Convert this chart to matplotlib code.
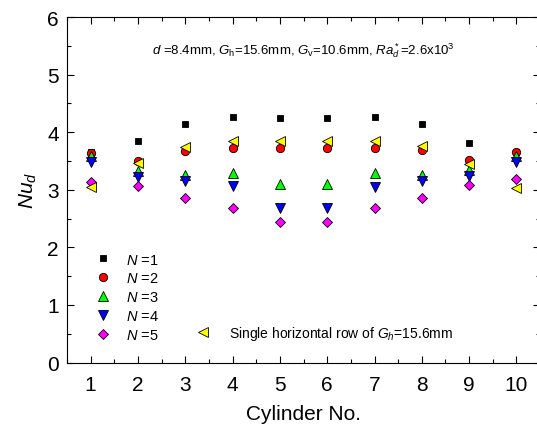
import matplotlib
matplotlib.use("Agg")
import matplotlib.pyplot as plt
from matplotlib.ticker import MultipleLocator

plt.rcParams["font.family"] = ["Liberation Sans", "DejaVu Sans"]
plt.rcParams["mathtext.fontset"] = "custom"
plt.rcParams["mathtext.rm"] = "Liberation Sans"
plt.rcParams["mathtext.it"] = "Liberation Sans:italic"

# ── data ─────────────────────────────────────────────────────────────────────
cylinders = [1, 2, 3, 4, 5, 6, 7, 8, 9, 10]
nu_n1 = [3.66, 3.84, 4.15, 4.26, 4.25, 4.25, 4.26, 4.15, 3.81, 3.66]
nu_n2 = [3.64, 3.50, 3.68, 3.73, 3.72, 3.72, 3.72, 3.69, 3.51, 3.65]
nu_n3 = [3.59, 3.32, 3.26, 3.30, 3.10, 3.10, 3.30, 3.26, 3.35, 3.59]
nu_n4 = [3.48, 3.22, 3.16, 3.06, 2.68, 2.68, 3.05, 3.16, 3.24, 3.48]
nu_n5 = [3.13, 3.07, 2.86, 2.68, 2.44, 2.44, 2.68, 2.86, 3.09, 3.18]
nu_single = [3.04, 3.46, 3.75, 3.84, 3.84, 3.84, 3.84, 3.76, 3.44, 3.03]

labels = [r"$N$ =1", r"$N$ =2", r"$N$ =3", r"$N$ =4", r"$N$ =5"]
single_label = r"Single horizontal row of $G_h$=15.6mm"

# ── plot ─────────────────────────────────────────────────────────────────────
fig = plt.figure(figsize=(5.37, 4.27), dpi=100)
ax = fig.add_axes([0.1248, 0.1487, 0.881, 0.809])

styles = [
    ("s", "black", 5.0),
    ("o", "red", 6.0),
    ("^", "#00ff00", 7.0),
    ("v", "blue", 7.0),
    ("D", "#ff00ff", 5.5),
]
series = [nu_n1, nu_n2, nu_n3, nu_n4, nu_n5]

handles = []
for vals, lab, (m, c, ms) in zip(series, labels, styles):
    h, = ax.plot(cylinders, vals, linestyle="none", marker=m, ms=ms,
                 mfc=c, mec="black", mew=0.6, label=lab)
    handles.append(h)
h_single, = ax.plot(cylinders, nu_single, linestyle="none", marker="<", ms=7,
                    mfc="yellow", mec="black", mew=0.6, label=single_label)

ax.set_xlim(0.5, 10.5)
ax.set_ylim(0, 6)
ax.xaxis.set_major_locator(MultipleLocator(1))
ax.xaxis.set_minor_locator(MultipleLocator(0.5))
ax.yaxis.set_major_locator(MultipleLocator(1))
ax.yaxis.set_minor_locator(MultipleLocator(0.5))
ax.tick_params(which="both", direction="in", top=True, right=True, labelsize=15)
ax.tick_params(which="major", length=5, width=0.8)
ax.tick_params(which="minor", length=3, width=0.8)
ax.tick_params(axis="x", pad=9)
ax.tick_params(axis="y", pad=6)

ax.set_xlabel("Cylinder No.", fontsize=15, labelpad=7)
ax.set_ylabel(r"$Nu_d$", fontsize=15, labelpad=6)

ax.text(0.5, 0.905,
        r"$d$ =8.4mm, $G_\mathrm{h}$=15.6mm, $G_\mathrm{v}$=10.6mm, $Ra_d^*$=2.6x10$^3$",
        transform=ax.transAxes, ha="center", va="center", fontsize=9.5)

leg1 = ax.legend(handles=handles, loc="lower left", bbox_to_anchor=(0.03, 0.022),
                 frameon=False, fontsize=10.5, labelspacing=0.33, handlelength=1.2,
                 handletextpad=1.0)
ax.add_artist(leg1)
ax.legend(handles=[h_single], loc="lower left", bbox_to_anchor=(0.243, 0.024),
          frameon=False, fontsize=10, handlelength=1.2, handletextpad=1.3)

fig.savefig("out.png", dpi=100)
